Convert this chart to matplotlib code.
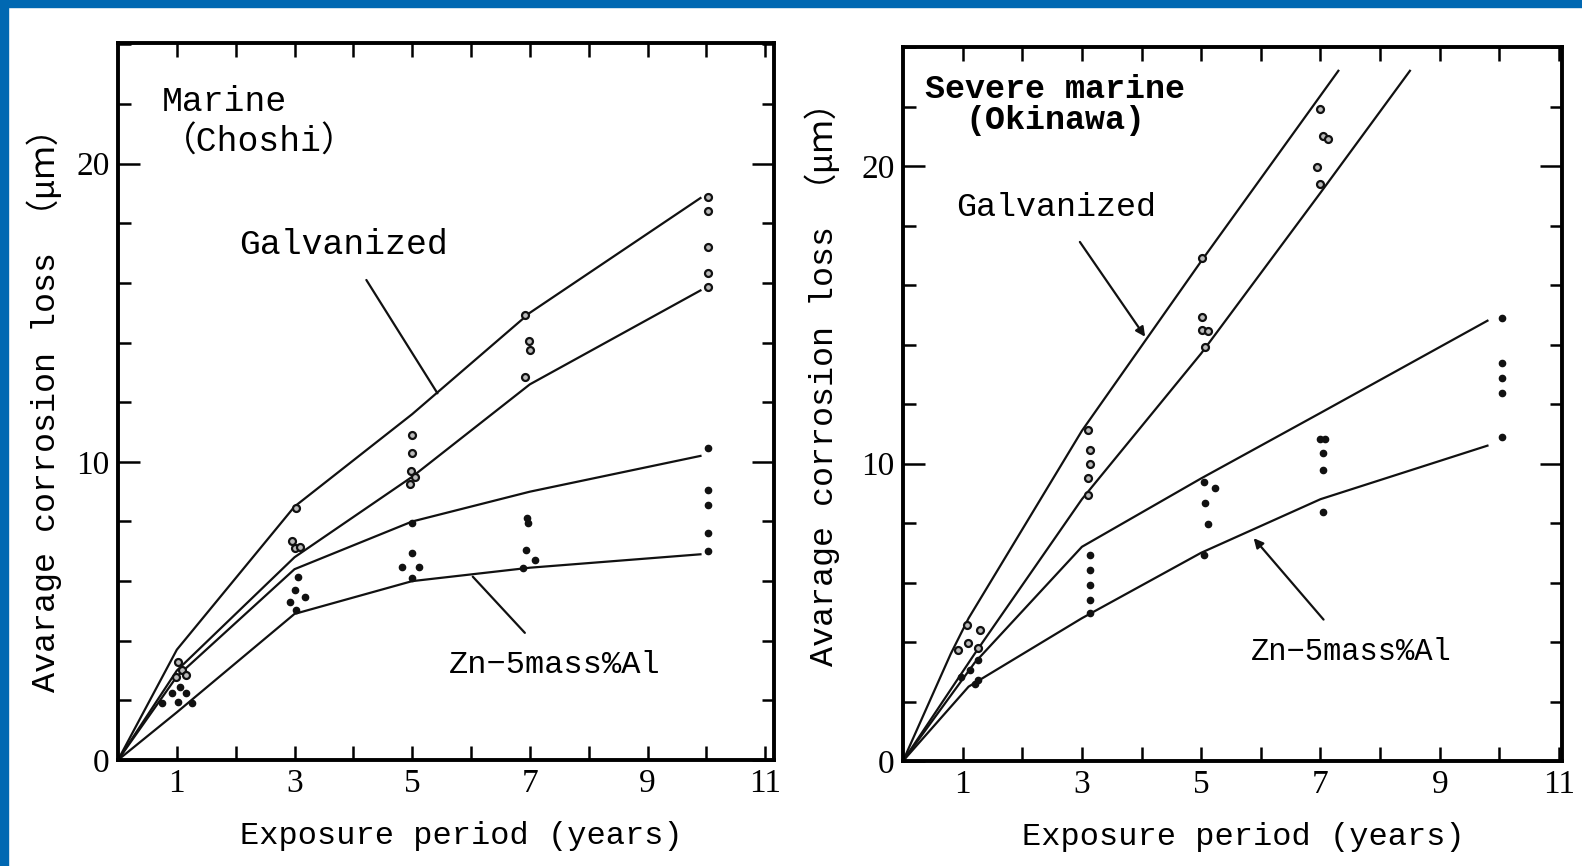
import numpy as np
import matplotlib.pyplot as plt
from matplotlib.patches import Rectangle

# fonts: serif digits, monospaced text, CJK fallback for the full-width brackets
plt.rcParams['font.family'] = ['Liberation Serif', 'Noto Sans CJK JP']
mono = ['Liberation Mono', 'Noto Sans CJK JP']

# ---------------- data: Marine (Choshi) ----------------
ch_galv_hi_x = [0, 1, 3, 5, 7, 9.9]
ch_galv_hi_y = [0, 3.7, 8.5, 11.6, 15.0, 18.85]
ch_galv_lo_x = [0, 1, 3, 5, 7, 9.9]
ch_galv_lo_y = [0, 3.0, 6.8, 9.5, 12.6, 15.75]
ch_zn_hi_x = [0, 1, 3, 5, 7, 9.9]
ch_zn_hi_y = [0, 2.8, 6.4, 8.0, 9.0, 10.2]
ch_zn_lo_x = [0, 1, 3, 5, 7, 9.9]
ch_zn_lo_y = [0, 1.6, 4.9, 6.0, 6.45, 6.9]

ch_galv_pts_x = [1.02, 1.08, 0.99, 1.16, 3.03, 2.95, 3.0, 3.1,
                 5.0, 5.0, 4.98, 5.05, 4.97, 6.92, 6.98, 7.0, 6.92,
                 10.03, 10.03, 10.03, 10.03, 10.03]
ch_galv_pts_y = [3.3, 3.02, 2.8, 2.85, 8.45, 7.33, 7.11, 7.16,
                 10.9, 10.3, 9.7, 9.5, 9.25, 14.93, 14.04, 13.76, 12.86,
                 18.9, 18.4, 17.2, 16.33, 15.88]
ch_zn_pts_x = [1.05, 0.91, 1.16, 0.74, 1.02, 1.25,
               3.06, 3.0, 3.17, 2.92, 3.03,
               5.0, 5.0, 4.83, 5.12, 5.0,
               6.96, 6.97, 6.94, 7.08, 6.88,
               10.03, 10.03, 10.03, 10.03, 10.03]
ch_zn_pts_y = [2.46, 2.24, 2.24, 1.9, 1.96, 1.9,
               6.15, 5.7, 5.48, 5.31, 5.03,
               7.96, 6.94, 6.49, 6.49, 6.1,
               8.11, 7.95, 7.05, 6.71, 6.43,
               10.45, 9.05, 8.55, 7.6, 7.0]

# ---------------- data: Severe marine (Okinawa) ----------------
ok_galv_hi_x = [0, 0.8, 1.1, 3, 5, 7.3]
ok_galv_hi_y = [0, 3.6, 4.8, 11.1, 16.8, 23.2]
ok_galv_lo_x = [0, 1.2, 3, 5, 7, 8.5]
ok_galv_lo_y = [0, 3.6, 8.8, 13.7, 19.1, 23.2]
ok_zn_hi_x = [0, 1.2, 3, 5, 7, 9.8]
ok_zn_hi_y = [0, 3.3, 7.2, 9.5, 11.7, 14.8]
ok_zn_lo_x = [0, 1.1, 3, 5, 7, 9.8]
ok_zn_lo_y = [0, 2.5, 4.8, 7.0, 8.8, 10.6]

ok_galv_pts_x = [1.07, 1.29, 0.93, 1.09, 1.26,
                 3.11, 3.14, 3.14, 3.11, 3.11,
                 5.01, 5.01, 5.01, 5.12, 5.07,
                 7.0, 7.05, 7.12, 6.94, 7.0]
ok_galv_pts_y = [4.57, 4.4, 3.73, 3.96, 3.8,
                 11.13, 10.45, 10.0, 9.5, 8.94,
                 16.9, 14.93, 14.49, 14.45, 13.93,
                 21.9, 21.0, 20.9, 19.98, 19.4]
ok_zn_pts_x = [1.26, 1.12, 0.98, 1.26, 1.2,
               3.14, 3.14, 3.14, 3.14, 3.14,
               5.04, 5.23, 5.07, 5.12, 5.04,
               7.0, 7.08, 7.05, 7.05, 7.05,
               10.05, 10.05, 10.05, 10.05, 10.05]
ok_zn_pts_y = [3.4, 3.06, 2.83, 2.72, 2.6,
               6.92, 6.42, 5.92, 5.41, 4.96,
               9.39, 9.17, 8.66, 7.98, 6.92,
               10.84, 10.84, 10.34, 9.78, 8.38,
               14.88, 13.39, 12.86, 12.36, 10.9]

xtick_vals = list(range(1, 12))
xtick_labels = ['1', '', '3', '', '5', '', '7', '', '9', '', '11']
ytick_vals = [0, 10, 20]
ytick_labels = ['0', '10', '20']

ylabel_txt = 'Avarage corrosion loss \uff08\u03bc\uff4d\uff09'
xlabel_txt = 'Exposure period (years)'

fig = plt.figure(figsize=(15.82, 8.66), dpi=100)
fig.patch.set_facecolor('white')
# blue frame strips (top and left)
fig.patches.append(Rectangle((0, 1 - 7 / 866), 1, 7 / 866, transform=fig.transFigure,
                             color='#0068b2', zorder=10))
fig.patches.append(Rectangle((0, 0), 8 / 1582, 1, transform=fig.transFigure,
                             color='#0068b2', zorder=10))

ax1 = fig.add_axes([118 / 1582, 1 - 760 / 866, 656 / 1582, 717 / 866])
ax2 = fig.add_axes([903 / 1582, 1 - 761 / 866, 659 / 1582, 714 / 866])


def style_axes(ax, xmax, ymax):
    ax.set_xlim(0, xmax)
    ax.set_ylim(0, ymax)
    for s in ax.spines.values():
        s.set_linewidth(2.8)
    ax.set_xticks(xtick_vals)
    ax.set_xticklabels(xtick_labels)
    ax.set_yticks(ytick_vals)
    ax.set_yticklabels(ytick_labels)
    ax.set_yticks(np.arange(0, 24.1, 2), minor=True)
    ax.tick_params(which='both', direction='in', top=True, right=True,
                   width=1.8, labelsize=24, pad=6)
    ax.tick_params(which='major', axis='y', length=16)
    ax.tick_params(which='minor', axis='y', length=9)
    ax.tick_params(which='major', axis='x', length=10)
    ax.set_ylabel(ylabel_txt, fontsize=24, family=mono)
    ax.set_xlabel(xlabel_txt, fontsize=23, family=mono)


def draw(ax, lines, galv_x, galv_y, zn_x, zn_y):
    for lx, ly in lines:
        ax.plot(lx, ly, color='#111111', lw=1.6)
    ax.plot(galv_x, galv_y, 'o', ms=5, mfc='#bbbbbb', mec='#111111', mew=1.6, ls='none')
    ax.plot(zn_x, zn_y, 'o', ms=4.5, color='#111111', ls='none')


draw(ax1, [(ch_galv_hi_x, ch_galv_hi_y), (ch_galv_lo_x, ch_galv_lo_y),
           (ch_zn_hi_x, ch_zn_hi_y), (ch_zn_lo_x, ch_zn_lo_y)],
     ch_galv_pts_x, ch_galv_pts_y, ch_zn_pts_x, ch_zn_pts_y)
draw(ax2, [(ok_galv_hi_x, ok_galv_hi_y), (ok_galv_lo_x, ok_galv_lo_y),
           (ok_zn_hi_x, ok_zn_hi_y), (ok_zn_lo_x, ok_zn_lo_y)],
     ok_galv_pts_x, ok_galv_pts_y, ok_zn_pts_x, ok_zn_pts_y)

style_axes(ax1, 11.15, 24.05)
style_axes(ax2, 11.05, 24.0)
ax1.yaxis.set_label_coords(-0.085, 0.5)
ax2.yaxis.set_label_coords(-0.096, 0.54)
ax1.xaxis.set_label_coords(0.524, -0.085)
ax2.xaxis.set_label_coords(0.516, -0.085)

# --- labels inside left panel
ax1.text(0.74, 21.4, 'Marine\n\uff08Choshi\uff09', fontsize=25, ha='left', va='center',
         linespacing=1.3, family=mono)
ax1.annotate('Galvanized', xy=(5.43, 12.3), xytext=(3.84, 17.3), fontsize=25,
             ha='center', va='center', family=mono,
             arrowprops=dict(arrowstyle='-', color='#111111', lw=1.6,
                             shrinkA=14, shrinkB=0))
ax1.annotate('Zn\u22125mass%Al', xy=(6.03, 6.15), xytext=(7.42, 3.19), fontsize=23,
             ha='center', va='center', family=mono,
             arrowprops=dict(arrowstyle='-', color='#111111', lw=1.6,
                             shrinkA=14, shrinkB=0))

# --- labels inside right panel
ax2.text(2.55, 22.05, 'Severe marine\n(Okinawa)', fontsize=24, ha='center', va='center',
         linespacing=1.0, fontweight='bold', family=mono)
ax2.annotate('Galvanized', xy=(4.06, 14.26), xytext=(2.57, 18.6), fontsize=24,
             ha='center', va='center', family=mono,
             arrowprops=dict(arrowstyle='-|>', color='#111111', lw=1.6,
                             mutation_scale=14, shrinkA=14, shrinkB=0))
ax2.annotate('Zn\u22125mass%Al', xy=(5.88, 7.49), xytext=(7.52, 3.66), fontsize=22,
             ha='center', va='center', family=mono,
             arrowprops=dict(arrowstyle='-|>', color='#111111', lw=1.6,
                             mutation_scale=14, shrinkA=14, shrinkB=0))

plt.savefig('out.png', dpi=100)
